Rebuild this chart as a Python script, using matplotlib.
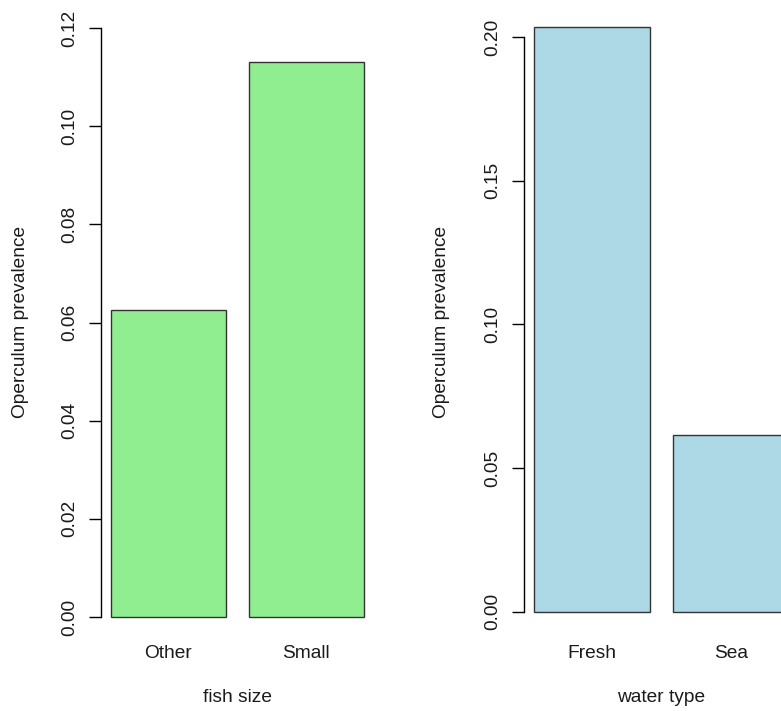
import matplotlib
matplotlib.use("Agg")
import matplotlib.pyplot as plt

plt.rcParams['font.family'] = ['Liberation Sans', 'DejaVu Sans']

size_categories = ["Other", "Small"]
size_values = [0.0625, 0.1131]
size_ticks = [0.00, 0.02, 0.04, 0.06, 0.08, 0.10, 0.12]
size_ticklabels = ["0.00", "0.02", "0.04", "0.06", "0.08", "0.10", "0.12"]

water_categories = ["Fresh", "Sea"]
water_values = [0.2034, 0.0615]
water_ticks = [0.00, 0.05, 0.10, 0.15, 0.20]
water_ticklabels = ["0.00", "0.05", "0.10", "0.15", "0.20"]

W, H = 781, 711
fig = plt.figure(figsize=(W / 100, H / 100), dpi=100)

FS = 13.8
TXT = "#1a1a1a"

def panel(rect, cats, vals, ticks, ticklabels, ylim, color, xlabel):
    ax = fig.add_axes(rect)
    centers = [0.7 + 1.2 * i for i in range(len(cats))]
    ax.bar(centers, vals, width=1.0, color=color, edgecolor="#333333", linewidth=1.0)
    ax.set_xlim(0.112, 2.488)
    ax.set_ylim(*ylim)
    for s in ["top", "right", "bottom"]:
        ax.spines[s].set_visible(False)
    ax.spines["left"].set_bounds(ticks[0], ticks[-1])
    ax.spines["left"].set_linewidth(1.0)
    ax.spines["left"].set_color("black")
    ax.set_yticks(ticks)
    ax.set_yticklabels(ticklabels, rotation=90, va="center", fontsize=FS, color=TXT)
    ax.tick_params(axis="y", length=8.3, width=1.0, pad=8, colors="black", labelcolor=TXT)
    ax.set_xticks(centers)
    ax.set_xticklabels(cats, fontsize=FS, color=TXT)
    ax.tick_params(axis="x", length=0, pad=3.5)
    ax.set_ylabel("Operculum prevalence", fontsize=FS, color=TXT, va="center")
    ax.set_xlabel(xlabel, fontsize=FS, color=TXT, va="center")
    return ax

bottom_px = 640
top_px = 4
ax1_h = (bottom_px - top_px) / H
ax1 = panel([100.9 / W, (H - bottom_px) / H, 273.1 / W, ax1_h],
            size_categories, size_values, size_ticks, size_ticklabels,
            (-0.00469, 0.1249), "#90EE90", "fish size")
ax1.yaxis.set_label_coords(-80.5 / 273.1, 0.5)
ax1.xaxis.set_label_coords(0.5, -(697 - bottom_px) / (bottom_px - top_px))

ax2 = panel([523.5 / W, (H - bottom_px) / H, 275.6 / W, ax1_h],
            water_categories, water_values, water_ticks, water_ticklabels,
            (-0.00985, 0.2115), "#ADD8E6", "water type")
ax2.yaxis.set_label_coords(-82 / 275.6, 0.5)
ax2.xaxis.set_label_coords(0.5, -(697 - bottom_px) / (bottom_px - top_px))

fig.savefig("out.png", dpi=100)
